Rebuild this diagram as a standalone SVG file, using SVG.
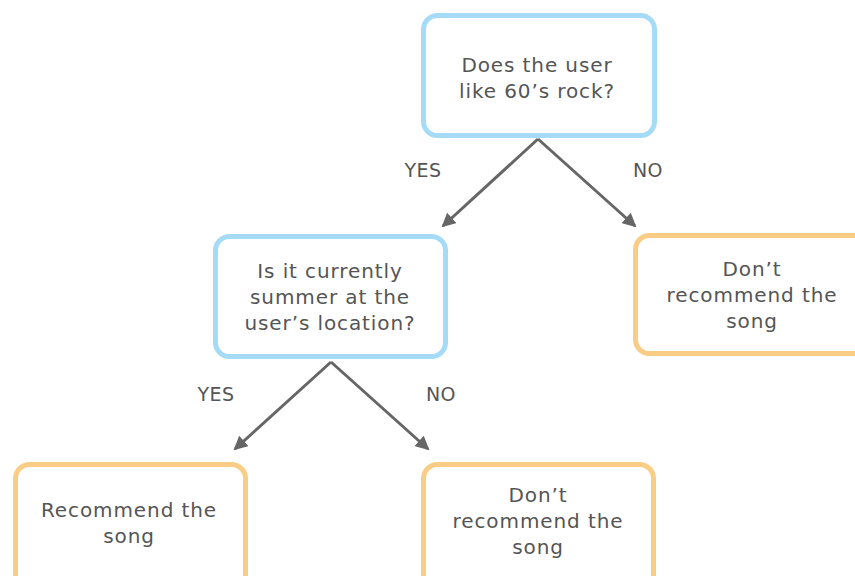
<svg xmlns="http://www.w3.org/2000/svg" width="855" height="576" viewBox="0 0 855 576">
<style>
.q{fill:#fff;stroke:#a6dbf7;stroke-width:5}
.a{fill:#fff;stroke:#f9cd86;stroke-width:5}
text{font-family:"DejaVu Sans","Liberation Sans",sans-serif;font-size:20px;letter-spacing:0.9px;fill:#555;text-anchor:middle}
.lbl{font-size:19px;letter-spacing:0.5px}
.c{stroke:#666;stroke-width:3;fill:none;marker-end:url(#ah)}
</style>
<defs>
<marker id="ah" markerUnits="userSpaceOnUse" viewBox="0 0 14 14" refX="12" refY="7" markerWidth="14" markerHeight="14" orient="auto">
<path d="M0,0 L14,7 L0,14 Z" fill="#666"/>
</marker>
</defs>
<g id="connectors">
<line class="c" x1="538" y1="139" x2="443" y2="226"/>
<line class="c" x1="538" y1="139" x2="635" y2="226"/>
<line class="c" x1="331" y1="362" x2="235" y2="449"/>
<line class="c" x1="331" y1="362" x2="428" y2="449"/>
<text class="lbl" x="423" y="177">YES</text>
<text class="lbl" x="648" y="177">NO</text>
<text class="lbl" x="216" y="401">YES</text>
<text class="lbl" x="441" y="401">NO</text>
</g>
<g id="q1">
<rect class="q" x="423.5" y="15.5" width="231" height="120" rx="14"/>
<text x="537" y="72">Does the user</text>
<text x="537" y="98">like 60’s rock?</text>
</g>
<g id="q2">
<rect class="q" x="215.5" y="236.5" width="230" height="120" rx="14"/>
<text x="330" y="278">Is it currently</text>
<text x="330" y="304">summer at the</text>
<text x="330" y="330">user’s location?</text>
</g>
<g id="a1">
<rect class="a" x="635.5" y="235.5" width="240" height="118" rx="14"/>
<text x="752" y="276">Don’t</text>
<text x="752" y="302">recommend the</text>
<text x="752" y="328">song</text>
</g>
<g id="a2">
<rect class="a" x="15.5" y="464.5" width="230" height="130" rx="14"/>
<text x="129" y="517">Recommend the</text>
<text x="129" y="543">song</text>
</g>
<g id="a3">
<rect class="a" x="423.5" y="464.5" width="230" height="130" rx="14"/>
<text x="538" y="502">Don’t</text>
<text x="538" y="528">recommend the</text>
<text x="538" y="554">song</text>
</g>
</svg>
